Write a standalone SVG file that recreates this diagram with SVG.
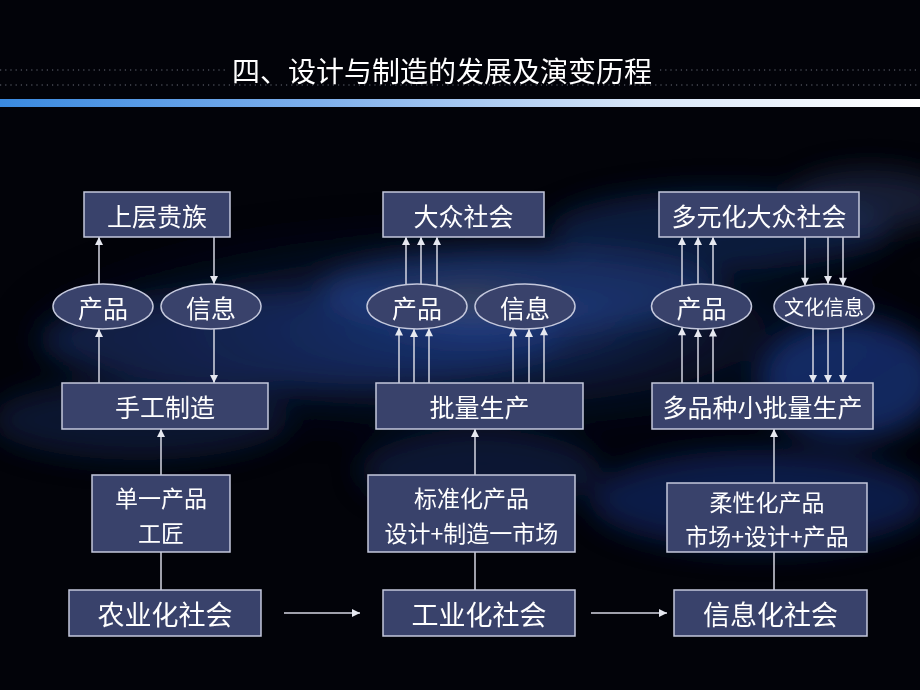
<svg xmlns="http://www.w3.org/2000/svg" width="920" height="690" viewBox="0 0 920 690">
  <defs>
    <style>
      .box { fill: #39426b; stroke: #c4c8dc; stroke-width: 1.5; }
      .lbl { fill: #ffffff; font-family: "Noto Sans CJK SC", "Noto Sans", sans-serif; font-size: 25px; text-anchor: middle; dominant-baseline: central; }
      .big { font-size: 27px; }
      .two { font-size: 23px; }
      .small { font-size: 20px; }
      .conn line { stroke: #d4d6e2; stroke-width: 1.5; fill: none; }
      .arr { marker-end: url(#ah); }
      .dots { stroke: #6a6e7a; stroke-width: 1.2; stroke-dasharray: 1.2 4; }
    </style>
    <marker id="ah" viewBox="0 0 10 10" refX="10" refY="5" markerWidth="9" markerHeight="8" orient="auto" markerUnits="userSpaceOnUse">
      <path d="M0,0 L10,5 L0,10 z" fill="#e6e8f0"/>
    </marker>
    <linearGradient id="bar" x1="0" y1="0" x2="1" y2="0">
      <stop offset="0" stop-color="#3a8ae0"/>
      <stop offset="0.35" stop-color="#7fb0ec"/>
      <stop offset="0.7" stop-color="#d8e6f8"/>
      <stop offset="1" stop-color="#ffffff"/>
    </linearGradient>
    <radialGradient id="glow" cx="0.5" cy="0.5" r="0.5">
      <stop offset="0" stop-color="#24479a" stop-opacity="0.75"/>
      <stop offset="1" stop-color="#0a1430" stop-opacity="0"/>
    </radialGradient>
    <radialGradient id="gold" cx="0.5" cy="0.5" r="0.5">
      <stop offset="0" stop-color="#7a6a30" stop-opacity="0.6"/>
      <stop offset="1" stop-color="#3a3010" stop-opacity="0"/>
    </radialGradient>
    <filter id="blur" x="-30%" y="-30%" width="160%" height="160%">
      <feGaussianBlur stdDeviation="14"/>
    </filter>
  </defs>

  <!-- background -->
  <rect x="0" y="0" width="920" height="690" fill="#020309"/>
  <g id="background" filter="url(#blur)">
    <ellipse cx="470" cy="330" rx="470" ry="120" fill="url(#glow)"/>
    <ellipse cx="300" cy="340" rx="260" ry="50" fill="#1c3578" opacity="0.5"/>
    <ellipse cx="520" cy="290" rx="200" ry="40" fill="#2a4c9c" opacity="0.5"/>
    <ellipse cx="470" cy="300" rx="110" ry="18" fill="url(#gold)"/>
    <ellipse cx="720" cy="230" rx="170" ry="40" fill="#1a2e66" opacity="0.55"/>
    <ellipse cx="850" cy="380" rx="90" ry="60" fill="#1d3f98" opacity="0.6"/>
    <ellipse cx="760" cy="500" rx="170" ry="50" fill="#18327a" opacity="0.55"/>
    <ellipse cx="480" cy="470" rx="120" ry="40" fill="#14275e" opacity="0.5"/>
    <ellipse cx="140" cy="420" rx="150" ry="40" fill="#152a60" opacity="0.45"/>
    <ellipse cx="870" cy="200" rx="80" ry="30" fill="#2a3a60" opacity="0.5"/>
  </g>

  <!-- title area -->
  <g id="title">
    <line class="dots" x1="0" y1="70" x2="226" y2="70"/>
    <line class="dots" x1="660" y1="70" x2="920" y2="70"/>
    <line class="dots" x1="0" y1="85" x2="920" y2="85"/>
    <rect x="0" y="99" width="920" height="8" fill="url(#bar)"/>
    <text x="442" y="70" fill="#ffffff" font-family="Noto Sans CJK SC, Noto Sans, sans-serif" font-size="28" text-anchor="middle" dominant-baseline="central">四、设计与制造的发展及演变历程</text>
  </g>

  <!-- connectors -->
  <g id="connectors" class="conn">
    <!-- left group -->
    <line class="arr" x1="99" y1="284" x2="99" y2="237"/>
    <line class="arr" x1="214" y1="237" x2="214" y2="284"/>
    <line class="arr" x1="99" y1="383" x2="99" y2="329"/>
    <line class="arr" x1="214" y1="329" x2="214" y2="383"/>
    <line class="arr" x1="161" y1="475" x2="161" y2="429"/>
    <line x1="161" y1="552" x2="161" y2="590"/>
    <!-- middle group -->
    <line class="arr" x1="406" y1="284.5" x2="406" y2="237"/>
    <line class="arr" x1="421" y1="284.1" x2="421" y2="237"/>
    <line class="arr" x1="437" y1="285.9" x2="437" y2="237"/>
    <line class="arr" x1="399" y1="383" x2="399" y2="327.5"/>
    <line class="arr" x1="414" y1="383" x2="414" y2="329"/>
    <line class="arr" x1="429" y1="383" x2="429" y2="328.3"/>
    <line class="arr" x1="513" y1="383" x2="513" y2="328.3"/>
    <line class="arr" x1="529" y1="383" x2="529" y2="328.9"/>
    <line class="arr" x1="544" y1="383" x2="544" y2="327.3"/>
    <line class="arr" x1="475" y1="475" x2="475" y2="429"/>
    <line x1="475" y1="552" x2="475" y2="590"/>
    <!-- right group -->
    <line class="arr" x1="682" y1="285.8" x2="682" y2="237"/>
    <line class="arr" x1="698" y1="284.1" x2="698" y2="237"/>
    <line class="arr" x1="713" y1="284.6" x2="713" y2="237"/>
    <line class="arr" x1="682" y1="383" x2="682" y2="327.2"/>
    <line class="arr" x1="698" y1="383" x2="698" y2="328.9"/>
    <line class="arr" x1="713" y1="383" x2="713" y2="328.4"/>
    <line class="arr" x1="805" y1="237" x2="805" y2="285.7"/>
    <line class="arr" x1="828" y1="237" x2="828" y2="284.1"/>
    <line class="arr" x1="843" y1="237" x2="843" y2="285.7"/>
    <line class="arr" x1="813" y1="328.5" x2="813" y2="383"/>
    <line class="arr" x1="828" y1="328.9" x2="828" y2="383"/>
    <line class="arr" x1="843" y1="327.3" x2="843" y2="383"/>
    <line class="arr" x1="774" y1="483" x2="774" y2="429"/>
    <line x1="774" y1="552" x2="774" y2="590"/>
    <!-- bottom horizontal -->
    <line class="arr" x1="284" y1="613" x2="360" y2="613"/>
    <line class="arr" x1="591" y1="613" x2="667" y2="613"/>
  </g>

  <!-- left column nodes -->
  <g id="n-shangceng">
    <rect class="box" x="84" y="192" width="146" height="45"/>
    <text class="lbl" x="157" y="214.5">上层贵族</text>
  </g>
  <g id="n-chanpin1">
    <ellipse class="box" cx="103" cy="306.5" rx="50" ry="22.5"/>
    <text class="lbl" x="103" y="306.5">产品</text>
  </g>
  <g id="n-xinxi1">
    <ellipse class="box" cx="211" cy="306.5" rx="50" ry="22.5"/>
    <text class="lbl" x="211" y="306.5">信息</text>
  </g>
  <g id="n-shougong">
    <rect class="box" x="62" y="383" width="206" height="46"/>
    <text class="lbl" x="165" y="406">手工制造</text>
  </g>
  <g id="n-danyi">
    <rect class="box" x="92" y="475" width="138" height="77"/>
    <text class="lbl two" x="161" y="497"><tspan x="161" y="497">单一产品</tspan><tspan x="161" y="531.5">工匠</tspan></text>
  </g>
  <g id="n-nongye">
    <rect class="box" x="69" y="590" width="192" height="46"/>
    <text class="lbl big" x="165" y="613">农业化社会</text>
  </g>

  <!-- middle column nodes -->
  <g id="n-dazhong">
    <rect class="box" x="383" y="192" width="161" height="45"/>
    <text class="lbl" x="463.5" y="214.5">大众社会</text>
  </g>
  <g id="n-chanpin2">
    <ellipse class="box" cx="417" cy="306.5" rx="50" ry="22.5"/>
    <text class="lbl" x="417" y="306.5">产品</text>
  </g>
  <g id="n-xinxi2">
    <ellipse class="box" cx="525" cy="306.5" rx="50" ry="22.5"/>
    <text class="lbl" x="525" y="306.5">信息</text>
  </g>
  <g id="n-piliang">
    <rect class="box" x="376" y="383" width="207" height="46"/>
    <text class="lbl" x="479.5" y="406">批量生产</text>
  </g>
  <g id="n-biaozhun">
    <rect class="box" x="368" y="475" width="207" height="77"/>
    <text class="lbl two" x="471.5" y="497"><tspan x="471.5" y="497">标准化产品</tspan><tspan x="471.5" y="531.5">设计+制造一市场</tspan></text>
  </g>
  <g id="n-gongye">
    <rect class="box" x="383" y="590" width="192" height="46"/>
    <text class="lbl big" x="479" y="613">工业化社会</text>
  </g>

  <!-- right column nodes -->
  <g id="n-duoyuan">
    <rect class="box" x="659" y="192" width="200" height="45"/>
    <text class="lbl" x="759" y="214.5">多元化大众社会</text>
  </g>
  <g id="n-chanpin3">
    <ellipse class="box" cx="701.5" cy="306.5" rx="50" ry="22.5"/>
    <text class="lbl" x="701.5" y="306.5">产品</text>
  </g>
  <g id="n-wenhua">
    <ellipse class="box" cx="824" cy="306.5" rx="50" ry="22.5"/>
    <text class="lbl small" x="824" y="306.5">文化信息</text>
  </g>
  <g id="n-duopinzhong">
    <rect class="box" x="652" y="383" width="221" height="46"/>
    <text class="lbl" x="762.5" y="406">多品种小批量生产</text>
  </g>
  <g id="n-rouxing">
    <rect class="box" x="667" y="483" width="200" height="69"/>
    <text class="lbl two" x="767" y="501"><tspan x="767" y="501">柔性化产品</tspan><tspan x="767" y="535">市场+设计+产品</tspan></text>
  </g>
  <g id="n-xinxihua">
    <rect class="box" x="674" y="590" width="193" height="46"/>
    <text class="lbl big" x="770.5" y="613">信息化社会</text>
  </g>
</svg>
